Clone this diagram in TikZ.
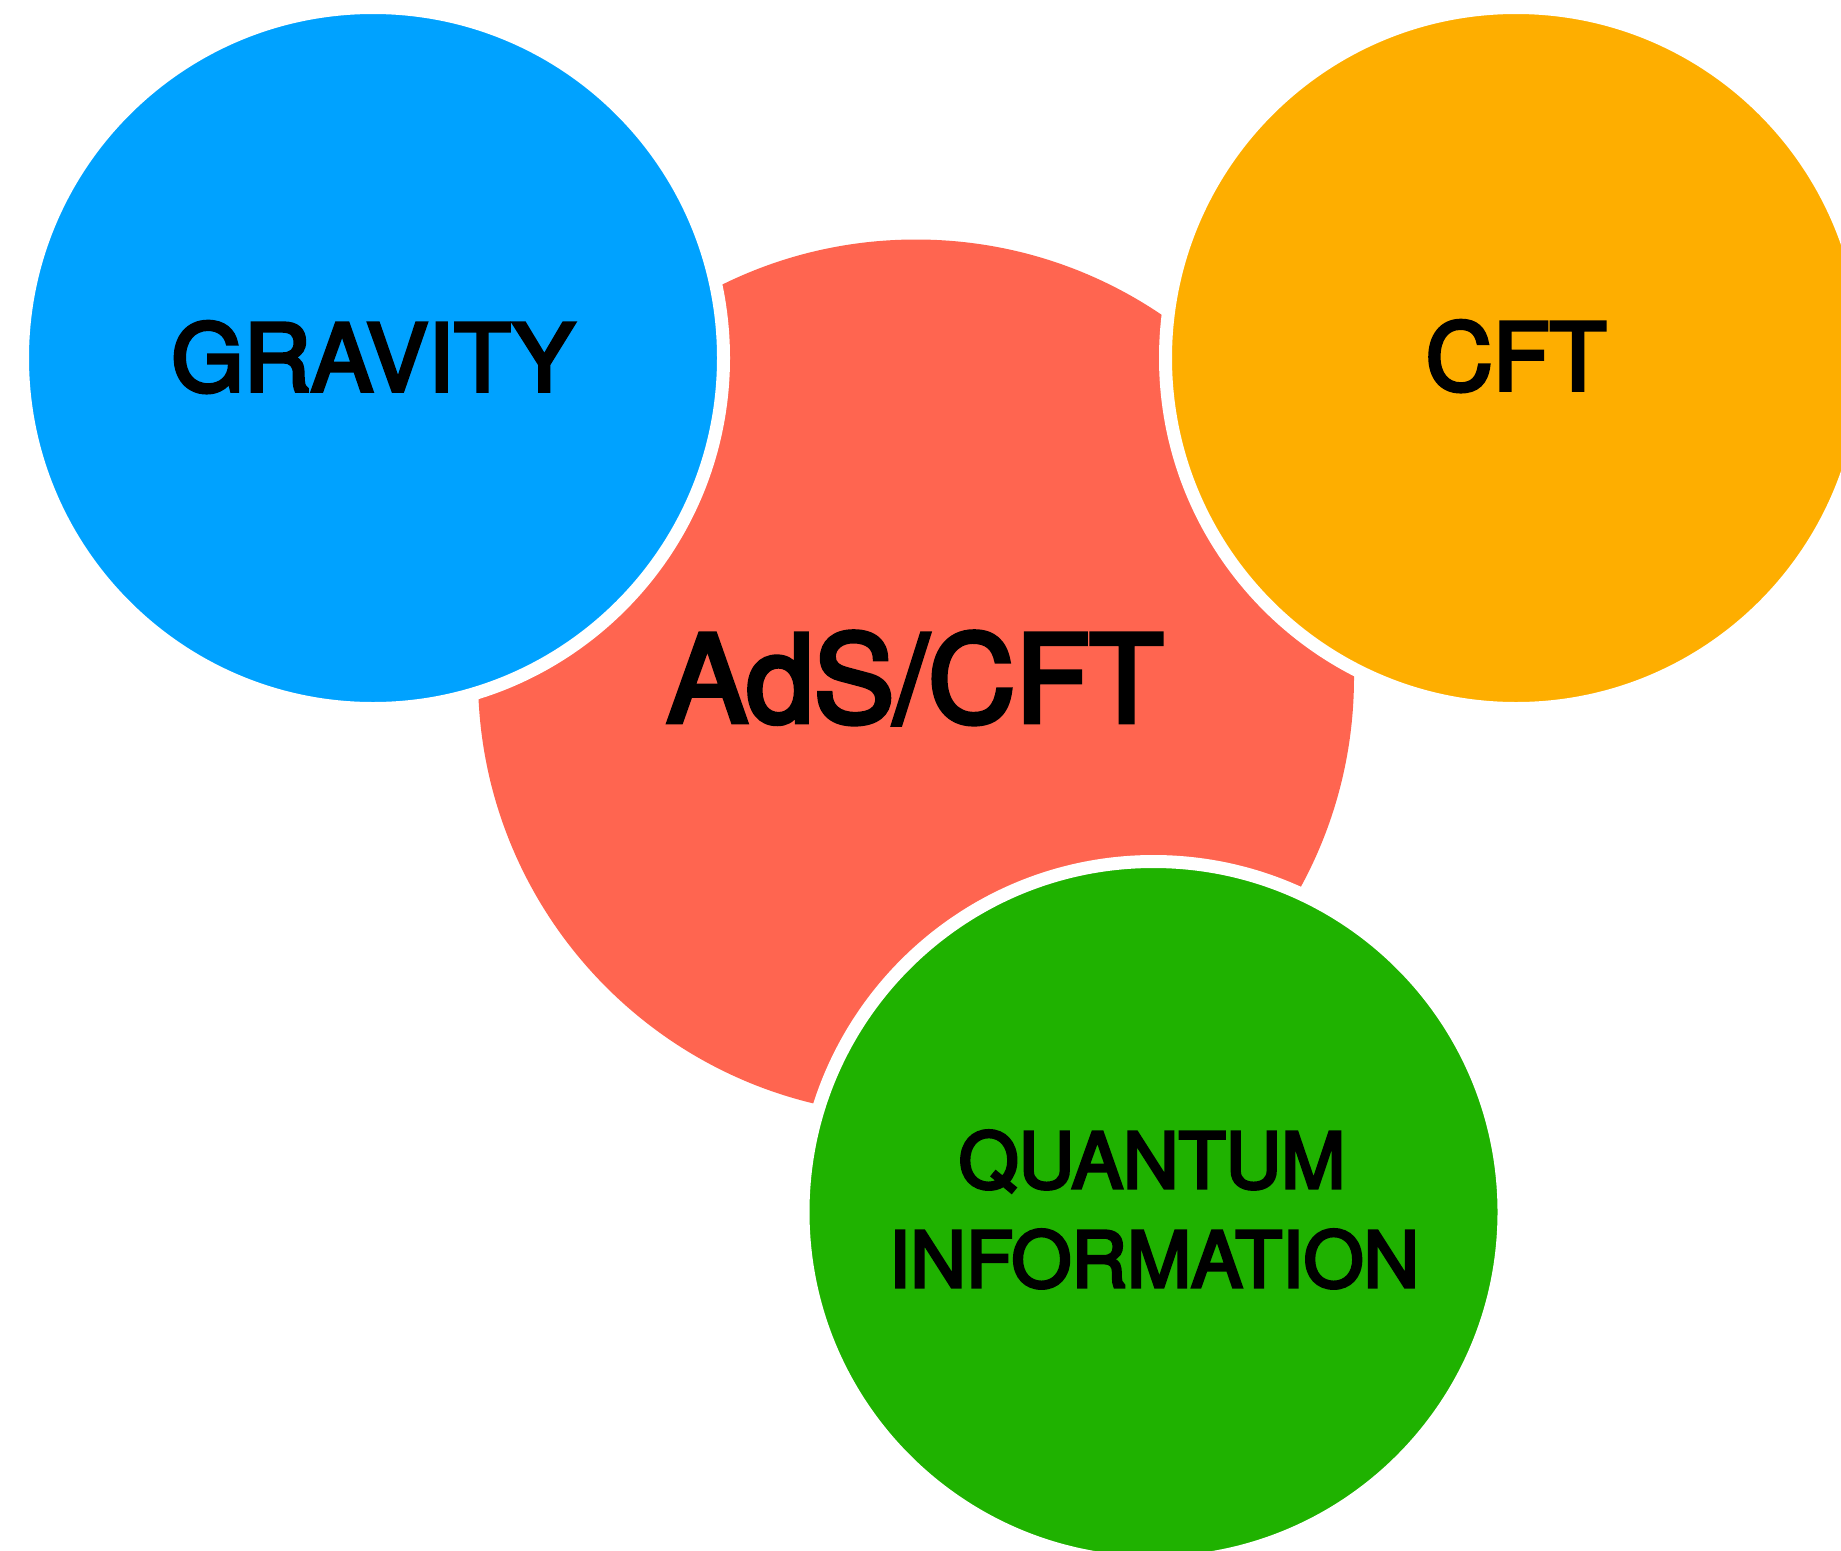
\documentclass[tikz,border=0pt]{standalone}
\usepackage{fontspec}
\setmainfont{TeX Gyre Heros}
\newfontfamily\medfont[FakeBold=4]{TeX Gyre Heros}
\definecolor{adsred}{HTML}{FF6550}
\definecolor{gravblue}{HTML}{00A2FF}
\definecolor{cftorange}{HTML}{FEAE00}
\definecolor{qigreen}{HTML}{1FB200}
\begin{document}
\begin{tikzpicture}[x=1pt,y=-1pt,
  disc/.style={circle,minimum size=701pt,inner sep=0pt,outer sep=0pt,
    draw=white,line width=13pt,fill=#1},
  label/.style={anchor=base,text=black,inner sep=0pt,
    font=\medfont\fontsize{#1}{#1}\selectfont}]
\useasboundingbox (0,0) rectangle (1841,1550);
\clip (0,0) rectangle (1841,1550);
% central AdS/CFT disc
\fill[adsred] (916,677.5) circle[radius=438];
% outer discs, each with a white ring cut into the central one
\node[disc=gravblue] (gravity) at (373,358) {};
\node[disc=cftorange] (cft) at (1516,358) {};
\node[disc=qigreen] (qi) at (1153.5,1212) {};
% labels
\node[label=93] (tgrav) at (373,391) {GRAVITY};
\node[label=93] (tcft) at (1516,390) {CFT};
\node[label=121] (tads) at (915,722) {AdS/CFT};
\node[label=77] (tq1) at (1152,1188) {QUANTUM};
\node[label=77] (tq2) at (1154,1287) {INFORMATION};
\end{tikzpicture}
\end{document}
